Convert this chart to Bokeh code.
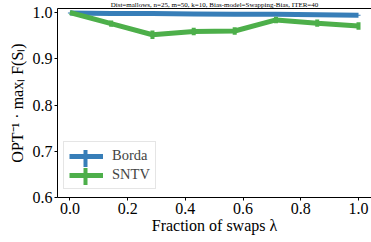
from bokeh.plotting import figure
from bokeh.models import (ColumnDataSource, FixedTicker, PrintfTickFormatter, Legend,
                          LegendItem, LinearAxis, BoxAnnotation, Range1d)
from bokeh.embed import file_html
from bokeh.resources import INLINE

title_text = "Dist=mallows, n=25, m=50, k=10, Bias-model=Swapping-Bias, ITER=40"
swap_fraction = [0.0, 0.143, 0.286, 0.429, 0.571, 0.714, 0.857, 1.0]
borda = [0.999, 0.998, 0.998, 0.997, 0.996, 0.996, 0.995, 0.994]
borda_err = [0.001, 0.001, 0.001, 0.001, 0.001, 0.001, 0.001, 0.001]
sntv = [1.0, 0.976, 0.952, 0.959, 0.960, 0.984, 0.977, 0.971]
sntv_err = [0.0, 0.007, 0.009, 0.008, 0.008, 0.007, 0.008, 0.008]
series_names = ["Borda", "SNTV"]
x_ticks = [0.0, 0.2, 0.4, 0.6, 0.8, 1.0]
y_ticks = [0.6, 0.7, 0.8, 0.9, 1.0]
x_label = "Fraction of swaps \u03bb"
y_label = "OPT\u207b\u00b9 \u00b7 max\u2097 F(S\u2097)"

BLUE = "#377eb8"
GREEN = "#4daf4a"
FONT = "Liberation Serif"

W, H = 371, 245
BL, BT, BB = 57, 9, 45

p = figure(width=W, height=H, output_backend="svg", toolbar_location=None,
           x_range=Range1d(-0.043, 1.045), y_range=Range1d(0.6, 1.0087),
           min_border_left=BL, min_border_right=0, min_border_top=BT, min_border_bottom=BB)
p.margin = (-3, 0, 0, 0)
p.xgrid.visible = False
p.ygrid.visible = False
p.outline_line_color = None
p.background_fill_color = "white"
p.border_fill_color = "white"

def style_axis(ax):
    ax.axis_line_color = "black"
    ax.axis_line_width = 1
    ax.major_tick_line_color = "black"
    ax.major_tick_out = 3
    ax.major_tick_in = 0
    ax.minor_tick_line_color = None
    ax.major_label_text_font = FONT
    ax.major_label_text_font_size = "16px"
    ax.major_label_text_color = "black"
    ax.axis_label_text_font = FONT
    ax.axis_label_text_font_size = "16px"
    ax.axis_label_text_font_style = "normal"
    ax.axis_label_text_color = "black"

xa = p.xaxis[0]
ya = p.yaxis[0]
style_axis(xa)
style_axis(ya)
xa.ticker = FixedTicker(ticks=x_ticks)
ya.ticker = FixedTicker(ticks=y_ticks)
xa.formatter = PrintfTickFormatter(format="%.1f")
ya.formatter = PrintfTickFormatter(format="%.1f")
xa.axis_label = x_label
ya.axis_label = y_label
xa.major_label_standoff = 2
ya.major_label_standoff = 2
xa.axis_label_standoff = 0
ya.axis_label_standoff = 4

# top spine carrying the small title
top = LinearAxis(ticker=FixedTicker(ticks=[]), major_tick_out=0, major_tick_in=0,
                 major_label_standoff=0, axis_line_color="black",
                 major_label_text_font_size="0px",
                 axis_label=title_text, axis_label_standoff=0,
                 axis_label_text_font=FONT, axis_label_text_font_size="7px",
                 axis_label_text_font_style="normal", axis_label_text_color="black")
p.add_layout(top, "above")

src_b = ColumnDataSource(dict(x=swap_fraction, y=borda,
                              lo=[v - e for v, e in zip(borda, borda_err)],
                              hi=[v + e for v, e in zip(borda, borda_err)]))
src_s = ColumnDataSource(dict(x=swap_fraction, y=sntv,
                              lo=[v - e for v, e in zip(sntv, sntv_err)],
                              hi=[v + e for v, e in zip(sntv, sntv_err)]))

lw = 5
b_line = p.line("x", "y", source=src_b, line_color=BLUE, line_width=lw)
p.segment(x0="x", y0="lo", x1="x", y1="hi", source=src_b, line_color=BLUE, line_width=4)
s_line = p.line("x", "y", source=src_s, line_color=GREEN, line_width=lw)
p.segment(x0="x", y0="lo", x1="x", y1="hi", source=src_s, line_color=GREEN, line_width=4)

# legend
leg_x, leg_y = 6, 8
pad, item_h, spacing, glyph_w = 5, 16, 2, 34
legend = Legend(items=[LegendItem(label=series_names[0], renderers=[b_line]),
                       LegendItem(label=series_names[1], renderers=[s_line])],
                location=(leg_x, leg_y), margin=0, padding=pad, spacing=spacing,
                glyph_width=glyph_w, glyph_height=item_h, label_height=item_h,
                label_standoff=9, label_text_font=FONT, label_text_font_size="14.5px",
                border_line_color="#cccccc", border_line_width=1,
                background_fill_alpha=0.0)
p.add_layout(legend)

box_h = 2 * pad + 2 * item_h + spacing
cx = leg_x + pad + glyph_w / 2
for i, col in enumerate([BLUE, GREEN]):
    cy = leg_y + box_h - pad - item_h / 2 - i * (item_h + spacing)
    p.add_layout(BoxAnnotation(left=cx - 2, right=cx + 2, bottom=cy - 8.5, top=cy + 8.5,
                               left_units="screen", right_units="screen",
                               bottom_units="screen", top_units="screen",
                               fill_color=col, fill_alpha=1, line_color=None,
                               level="overlay"))

open("out.html", "w").write(file_html(p, INLINE))
